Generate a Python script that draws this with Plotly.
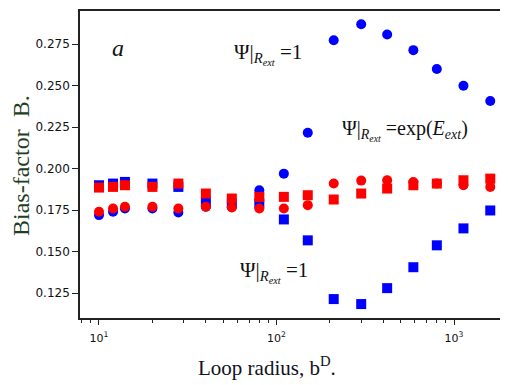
import plotly.graph_objects as go

# Loop radius values (x)
loop_radius = [10, 12, 14, 20, 28, 40, 56, 80, 110, 150, 210, 300, 420, 590, 800, 1130, 1600]

# Psi|Rext = 1 (blue)
psi1_circles = [0.172, 0.174, 0.176, 0.176, 0.1736, 0.177, 0.177, 0.187, 0.197, 0.2216,
                0.2774, 0.287, 0.2808, 0.2714, 0.260, 0.250, 0.2408]
psi1_squares = [0.190, 0.191, 0.192, 0.191, 0.189, 0.180, 0.179, 0.179, 0.1694, 0.1568,
                0.1214, 0.1184, 0.128, 0.1406, 0.1538, 0.164, 0.1748]

# Psi|Rext = exp(E_ext) (red)
psiexp_circles = [0.174, 0.176, 0.177, 0.177, 0.176, 0.177, 0.1766, 0.176, 0.176, 0.178,
                  0.191, 0.1928, 0.193, 0.192, 0.191, 0.190, 0.189]
psiexp_squares = [0.1886, 0.189, 0.190, 0.189, 0.191, 0.185, 0.182, 0.183, 0.183, 0.184,
                  0.1814, 0.185, 0.188, 0.190, 0.191, 0.193, 0.194]

y_ticks = [0.125, 0.150, 0.175, 0.200, 0.225, 0.250, 0.275]
x_ticks = [10, 100, 1000]
x_ticklabels = ["10<sup>1</sup>", "10<sup>2</sup>", "10<sup>3</sup>"]

BLUE = "#0000ff"
RED = "#ff0000"

fig = go.Figure()
fig.add_trace(go.Scatter(x=loop_radius, y=psi1_circles, mode="markers",
                         marker=dict(symbol="circle", size=10, color=BLUE)))
fig.add_trace(go.Scatter(x=loop_radius, y=psi1_squares, mode="markers",
                         marker=dict(symbol="square", size=10, color=BLUE)))
fig.add_trace(go.Scatter(x=loop_radius, y=psiexp_squares, mode="markers",
                         marker=dict(symbol="square", size=10, color=RED)))
fig.add_trace(go.Scatter(x=loop_radius, y=psiexp_circles, mode="markers",
                         marker=dict(symbol="circle", size=10, color=RED)))

serif = "Liberation Serif, Times New Roman, serif"

# plot area: figure coords x 72..500, y 1..310 (page adds ~8px offset)
L, R, T, B = 72, 8, 1, 75
PW = 508 - L - R
PH = 385 - T - B


def px(x):
    return (x - 8 - L) / PW


def py(y):
    return (PH - (y - 8 - T)) / PH


fig.update_layout(
    width=508, height=385,
    margin=dict(l=L, r=R, t=T, b=B),
    paper_bgcolor="white", plot_bgcolor="white",
    showlegend=False,
    xaxis=dict(
        type="log", range=[0.893, 3.304],
        tickvals=x_ticks, ticktext=x_ticklabels,
        showgrid=False, zeroline=False,
        showline=True, linecolor="#222", linewidth=1.5, mirror=True,
        ticks="outside", ticklen=5, tickcolor="#222",
        ticklabelstandoff=4,
        minor=dict(ticks="outside", ticklen=3, tickcolor="#222", dtick="D1", showgrid=False),
        tickfont=dict(family="DejaVu Sans", size=11, color="#111"),
    ),
    yaxis=dict(
        range=[0.110, 0.295],
        tickvals=y_ticks, tickformat=".3f",
        showgrid=False, zeroline=False,
        showline=True, linecolor="#222", linewidth=1.5,
        ticks="outside", ticklen=6, tickcolor="#222",
        tickfont=dict(family="DejaVu Sans", size=12, color="#111"),
    ),
    annotations=[
        dict(text="Bias-factor  B.", textangle=-90, xref="paper", yref="paper",
             x=px(21), y=py(165), xanchor="center", yanchor="middle",
             showarrow=False, font=dict(family=serif, size=24, color="#1e3d23")),
        dict(text="Loop radius, b<sup>D</sup>.", xref="paper", yref="paper",
             x=px(267), y=py(367), xanchor="center", yanchor="middle",
             showarrow=False, font=dict(family=serif, size=21, color="#111122")),
        dict(text="<i>a</i>", xref="paper", yref="paper",
             x=px(118), y=py(46), xanchor="center", yanchor="middle",
             showarrow=False, font=dict(family=serif, size=24, color="#111")),
        dict(text="Ψ|<sub><i>R<sub>ext</sub></i></sub> =1", xref="paper", yref="paper",
             x=px(232), y=py(52), xanchor="left", yanchor="middle",
             showarrow=False, font=dict(family=serif, size=21, color="#111")),
        dict(text="Ψ|<sub><i>R<sub>ext</sub></i></sub> =exp(<i>E<sub>ext</sub></i>)",
             xref="paper", yref="paper",
             x=px(340), y=py(129), xanchor="left", yanchor="middle",
             showarrow=False, font=dict(family=serif, size=20, color="#111")),
        dict(text="Ψ|<sub><i>R<sub>ext</sub></i></sub> =1", xref="paper", yref="paper",
             x=px(238), y=py(272), xanchor="left", yanchor="middle",
             showarrow=False, font=dict(family=serif, size=21, color="#111")),
    ],
)

fig.write_html("out.html")
